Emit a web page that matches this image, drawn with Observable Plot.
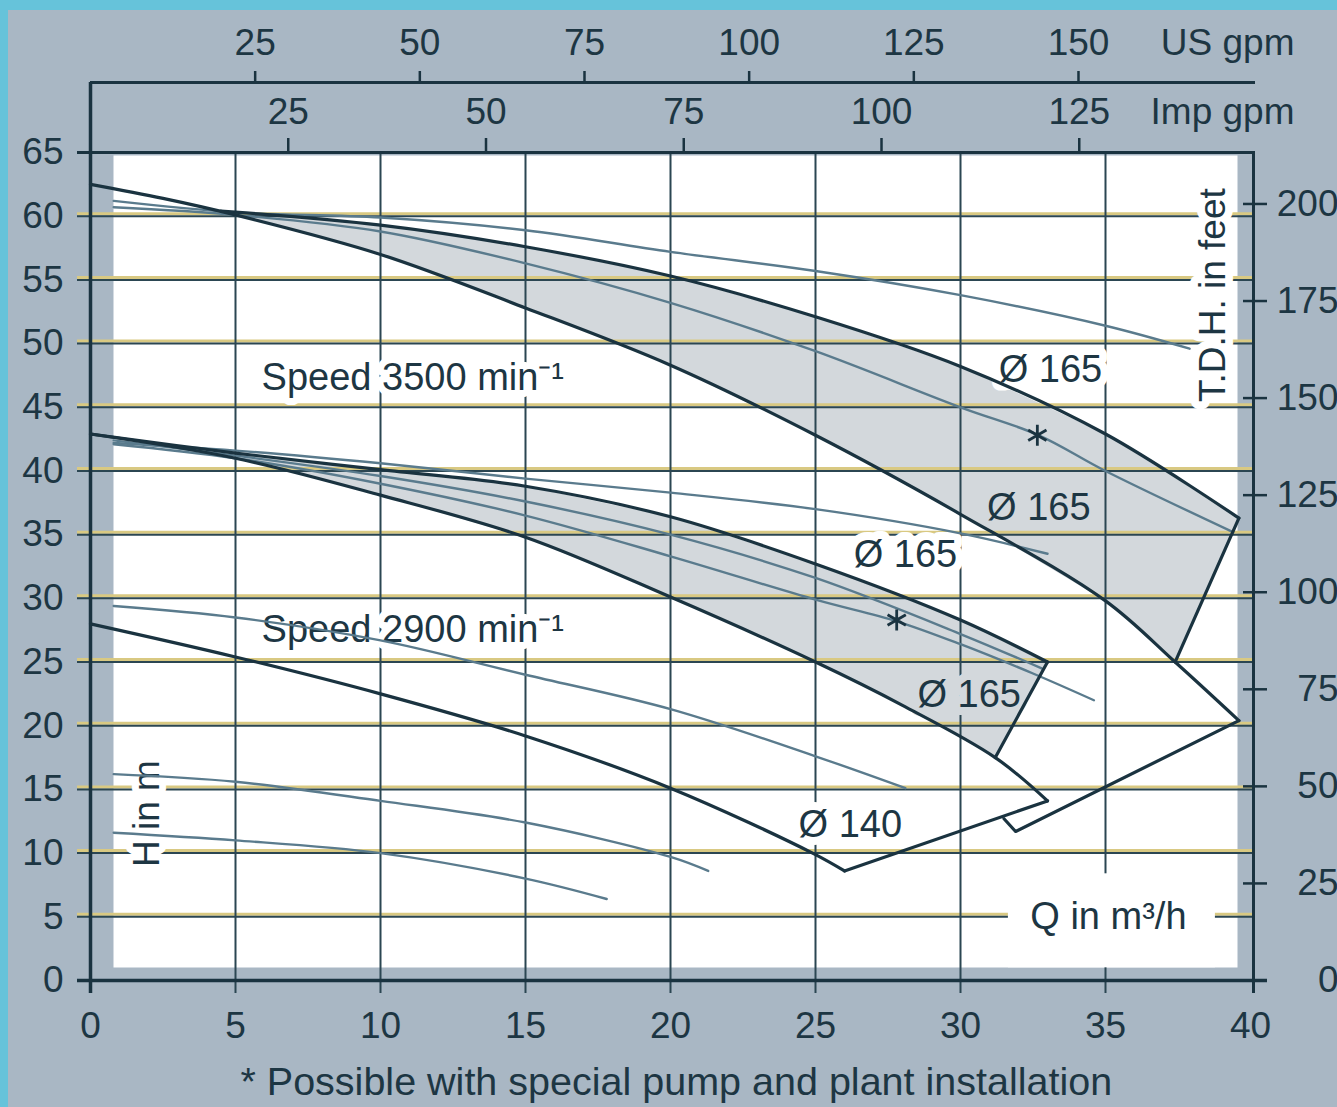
<!DOCTYPE html>
<html><head><meta charset="utf-8">
<script src="https://cdn.jsdelivr.net/npm/d3@7"></script>
<script src="https://cdn.jsdelivr.net/npm/@observablehq/plot@0.6"></script>
<style>
html,body{margin:0;padding:0;background:#66c3da;}
#wrap{position:relative;width:1337px;height:1107px;overflow:hidden;}
#paper{position:absolute;left:8px;top:10px;right:0;bottom:0;background:#a9b7c4;}
#chart{position:absolute;left:0;top:0;}
</style></head><body>
<div id="wrap"><div id="paper"></div><div id="chart"></div></div>
<script>
// ---- axes / ticks ----
const qTicks = [0,5,10,15,20,25,30,35,40];
const hTicks = [0,5,10,15,20,25,30,35,40,45,50,55,60,65];
const qGrid = [5,10,15,20,25,30,35];
const hGrid = [5,10,15,20,25,30,35,40,45,50,55,60];
const usGpmTicks = [25,50,75,100,125,150];
const impGpmTicks = [25,50,75,100,125];
const ftTicks = [0,25,50,75,100,125,150,175,200];
const US_GPM_PER_M3H = 4.4029, IMP_GPM_PER_M3H = 3.6662, M_PER_FT = 0.3048;

// ---- speed 3500 min-1 ----
const h3500Max = [{q:4.5,h:60.4},{q:10,h:59.3},{q:15,h:57.6},{q:20,h:55.3},{q:25,h:52.1},{q:30,h:48.2},{q:35,h:42.9},{q:39.6,h:36.3}];
const h3500Min = [{q:0,h:62.5},{q:2.5,h:61.4},{q:5,h:60.1},{q:10,h:57.0},{q:15,h:52.8},{q:20,h:48.3},{q:25,h:42.8},{q:30,h:36.6},{q:35,h:29.8},{q:37.4,h:25.0},{q:39.6,h:20.4}];
const h3500ThinA = [{q:0.8,h:61.2},{q:5,h:60.3},{q:10,h:59.9},{q:15,h:58.9},{q:20,h:57.2},{q:25,h:55.7},{q:30,h:53.8},{q:35,h:51.4},{q:37.9,h:49.6}];
const h3500ThinB = [{q:0.8,h:60.7},{q:5,h:60.1},{q:10,h:58.8},{q:15,h:56.3},{q:20,h:53.2},{q:25,h:49.4},{q:30,h:45.0},{q:32.7,h:42.8},{q:35,h:40.0},{q:39.4,h:35.2}];
const edge3500 = [{q:39.6,h:36.3},{q:37.4,h:25.0}];

// ---- speed 2900 min-1 ----
const h2900Max = [{q:0,h:42.9},{q:5,h:41.4},{q:10,h:40.1},{q:15,h:38.8},{q:20,h:36.4},{q:25,h:32.7},{q:30,h:28.3},{q:33.0,h:25.0}];
const h2900Min = [{q:0,h:42.9},{q:5,h:41.0},{q:10,h:38.1},{q:15,h:34.8},{q:20,h:30.1},{q:25,h:25.0},{q:28,h:21.6},{q:31.2,h:17.5},{q:33.0,h:14.1}];
const h2900ThinA = [{q:0.8,h:42.2},{q:5,h:41.6},{q:10,h:40.6},{q:15,h:39.4},{q:20,h:38.3},{q:25,h:37.0},{q:30,h:35.1},{q:33.0,h:33.5}];
const h2900ThinB = [{q:0.8,h:42.4},{q:5,h:41.2},{q:10,h:39.6},{q:15,h:37.6},{q:20,h:35.0},{q:25,h:31.6},{q:30,h:27.2},{q:32.8,h:24.5}];
const h2900ThinC = [{q:0.8,h:42.1},{q:5,h:41.0},{q:10,h:39.0},{q:15,h:36.5},{q:20,h:33.3},{q:25,h:29.9},{q:27.8,h:28.2},{q:30,h:26.4},{q:32.5,h:24.1},{q:34.6,h:22.0}];
const edge2900 = [{q:33.0,h:25.0},{q:31.2,h:17.5}];
const h2900D140 = [{q:0,h:28.0},{q:5,h:25.4},{q:10,h:22.5},{q:15,h:19.2},{q:20,h:15.1},{q:24.9,h:10.0},{q:26.0,h:8.6}];
const lowThinA = [{q:0.8,h:29.4},{q:5,h:28.5},{q:10,h:26.7},{q:15,h:24.0},{q:20,h:21.3},{q:25,h:17.6},{q:28.1,h:15.1}];
const lowThinB = [{q:0.8,h:16.2},{q:5,h:15.6},{q:10,h:14.1},{q:15,h:12.4},{q:20,h:9.7},{q:21.3,h:8.6}];
const lowThinC = [{q:0.8,h:11.6},{q:5,h:11.0},{q:10,h:10.0},{q:15,h:8.0},{q:17.8,h:6.4}];
const limitLow = [{q:26.0,h:8.6},{q:33.0,h:14.1}];
const limitHigh = [{q:39.6,h:20.4},{q:31.9,h:11.7},{q:31.5,h:12.7}];

// ---- annotations ----
const whiteLabels = [
  {text:"Ø 165", q:33.1, h:47.9},
  {text:"Ø 165", q:28.1, h:33.4},
  {text:"Ø 140", q:26.2, h:12.2}
];
const bandLabels = [
  {text:"Ø 165", q:32.7, h:37.1},
  {text:"Ø 165", q:30.3, h:22.4}
];
const speedLabels = [
  {text:"Speed 3500 min⁻¹", q:5.9, h:47.3},
  {text:"Speed 2900 min⁻¹", q:5.9, h:27.5}
];
const qAxisTitle = [{text:"Q in m³/h", q:35.1, h:5.0}];
const stars = [{q:32.65, h:42.8},{q:27.8, h:28.3}];

// ---- styles ----
const INK = "#1d3643", DARK = "#1a3340", THIN = "#5a7b8d", GRID = "#2b4652", YELLOW = "#d9c982", BAND = "#d3d8dc";
const FS = 37;

const band3500 = [...h3500Max, ...h3500Min.filter(d => d.q >= 4.5 && d.q <= 37.4).reverse()];
const band2900 = [...h2900Max.filter(d => d.q >= 5), ...h2900Min.filter(d => d.q >= 5 && d.q <= 31.2).reverse()];

const dark = (data, curve = "catmull-rom") => Plot.line(data, {x:"q", y:"h", stroke:DARK, strokeWidth:3.2, curve});
const thin = data => Plot.line(data, {x:"q", y:"h", stroke:THIN, strokeWidth:2.4, curve:"catmull-rom"});

const chart = Plot.plot({
  width:1337, height:1107,
  marginLeft:90, marginRight:87, marginTop:152, marginBottom:127,
  x:{domain:[0,40], axis:null},
  y:{domain:[0,65], axis:null},
  style:{background:"transparent", fontFamily:"'Liberation Sans', Arial, Helvetica, sans-serif", color:INK},
  marks:[
    Plot.frame({fill:"white", stroke:"none", insetLeft:23, insetRight:13, insetTop:3, insetBottom:13}),
    Plot.line(band3500, {x:"q", y:"h", fill:BAND, stroke:"none"}),
    Plot.line(band2900, {x:"q", y:"h", fill:BAND, stroke:"none"}),
    // grid
    Plot.ruleY(hGrid, {stroke:YELLOW, strokeWidth:3, dy:-2.5, insetLeft:-13, insetRight:-4}),
    Plot.ruleY(hGrid, {stroke:GRID, strokeWidth:2, insetLeft:-13, insetRight:-4}),
    Plot.ruleX(qGrid, {stroke:GRID, strokeWidth:2, insetBottom:-13}),
    // labels with paper-coloured boxes
    Plot.rect(qAxisTitle, {x1:"q", x2:"q", y1:"h", y2:"h", fill:"white", insetLeft:-100, insetRight:-107, insetTop:-43, insetBottom:-51}),
    Plot.text(qAxisTitle, {x:"q", y:"h", text:"text", fontSize:38, fill:INK}),
    Plot.text(whiteLabels, {x:"q", y:"h", text:"text", fontSize:38, fill:INK, stroke:"white", strokeWidth:16, paintOrder:"stroke"}),
    Plot.text(bandLabels, {x:"q", y:"h", text:"text", fontSize:38, fill:INK, stroke:BAND, strokeWidth:16, paintOrder:"stroke"}),
    Plot.text(speedLabels, {x:"q", y:"h", text:"text", textAnchor:"start", fontSize:38, fill:INK, stroke:"white", strokeWidth:14, paintOrder:"stroke"}),
    Plot.text(["H in m"], {x:1.97, y:13.1, text:d=>d, rotate:-90, fontSize:37, fill:INK, stroke:"white", strokeWidth:14, paintOrder:"stroke"}),
    Plot.text(["T.D.H. in feet"], {x:38.7, y:53.8, text:d=>d, rotate:-90, fontSize:37, fill:INK, stroke:"white", strokeWidth:16, paintOrder:"stroke"}),
    // curves
    thin(h3500ThinA), thin(h3500ThinB),
    thin(h2900ThinA), thin(h2900ThinB), thin(h2900ThinC),
    thin(lowThinA), thin(lowThinB), thin(lowThinC),
    dark(h3500Max), dark(h3500Min), dark(edge3500, "linear"),
    dark(h2900Max), dark(h2900Min), dark(edge2900, "linear"),
    dark(h2900D140), dark(limitLow, "linear"), dark(limitHigh, "linear"),
    Plot.dot(stars, {x:"q", y:"h", symbol:"asterisk", r:10, stroke:DARK, strokeWidth:2.8}),
    // frame / axis lines
    Plot.ruleY([0], {stroke:DARK, strokeWidth:3.5, insetLeft:-13, insetRight:-17}),
    Plot.ruleY([65], {stroke:DARK, strokeWidth:3, insetLeft:-13, insetRight:-5}),
    Plot.ruleY([65], {stroke:DARK, strokeWidth:3, dy:-70, insetRight:-5}),
    Plot.ruleX([0], {stroke:DARK, strokeWidth:3.5, insetTop:-70, insetBottom:-13}),
    Plot.ruleX([40], {stroke:DARK, strokeWidth:3, dx:3, insetBottom:-13}),
    // bottom axis labels (m3/h)
    Plot.text(qTicks, {x:d=>d, y:0, text:d=>String(d), dy:46, fontSize:FS, fill:INK}),
    // left axis labels (m)
    Plot.text(hTicks, {x:0, y:d=>d, text:d=>String(d), dx:-27, textAnchor:"end", fontSize:FS, fill:INK}),
    // top US gpm axis
    Plot.ruleX(usGpmTicks, {x:d=>d/US_GPM_PER_M3H, y1:65, y2:65, dy:-70, insetTop:-11, stroke:DARK, strokeWidth:2.5}),
    Plot.text(usGpmTicks, {x:d=>d/US_GPM_PER_M3H, y:65, text:d=>String(d), dy:-109, fontSize:FS, fill:INK}),
    Plot.text(["US gpm"], {x:40, y:65, text:d=>d, dx:44, dy:-109, textAnchor:"end", fontSize:FS, fill:INK}),
    // top Imp gpm axis
    Plot.ruleX(impGpmTicks, {x:d=>d/IMP_GPM_PER_M3H, y1:65, y2:65, insetTop:-14, stroke:DARK, strokeWidth:2.5}),
    Plot.text(impGpmTicks, {x:d=>d/IMP_GPM_PER_M3H, y:65, text:d=>String(d), dy:-40, fontSize:FS, fill:INK}),
    Plot.text(["Imp gpm"], {x:40, y:65, text:d=>d, dx:44, dy:-40, textAnchor:"end", fontSize:FS, fill:INK}),
    // right feet axis
    Plot.ruleY(ftTicks.filter(d => d > 0), {y:d=>d*M_PER_FT, x1:40, x2:40, dx:3, insetLeft:-10, insetRight:-14, stroke:DARK, strokeWidth:2.5}),
    Plot.text(ftTicks, {x:40, y:d=>d*M_PER_FT, text:d=>String(d), dx:88, textAnchor:"end", fontSize:FS, fill:INK}),
    // footnote
    Plot.text(["* Possible with special pump and plant installation"], {x:20.2, y:0, text:d=>d, dy:102, fontSize:39.5, fill:INK})
  ]
});
document.getElementById("chart").appendChild(chart);
</script>
</body></html>
